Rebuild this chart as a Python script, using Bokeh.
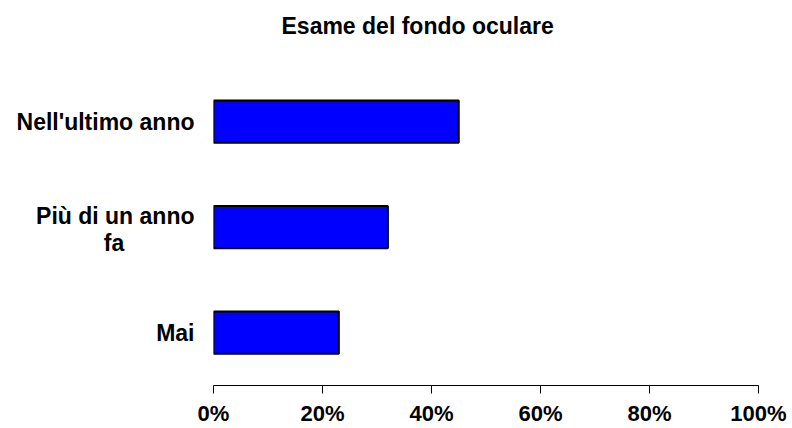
from bokeh.plotting import figure
from bokeh.models import Range1d, FixedTicker, ColumnDataSource
from bokeh.embed import file_html
from bokeh.resources import INLINE

title = "Esame del fondo oculare"
categories = ["Nell'ultimo anno", "Più di un anno fa", "Mai"]
# how each category label is broken into lines in the chart
category_lines = [["Nell'ultimo anno"], ["Più di un anno", "fa"], ["Mai"]]
values = [45, 32, 23]
tick_values = [0, 20, 40, 60, 80, 100]
tick_labels = ["0%", "20%", "40%", "60%", "80%", "100%"]

FONT = "Liberation Sans"
SLOT = 100                      # y units per category
TOP_PAD = 22                    # empty y units above the first bar slot
n = len(categories)
ypos = [int((n - 0.5 - i) * SLOT) for i in range(n)]

src = ColumnDataSource(data=dict(cat=categories, y=ypos, val=values))

p = figure(width=792, height=428,
           y_range=Range1d(0, n * SLOT + TOP_PAD),
           x_range=Range1d(0, 100),
           output_backend="svg", toolbar_location=None,
           min_border_left=213, min_border_right=34,
           min_border_top=45, min_border_bottom=43,
           title=title)

p.hbar(y="y", right="val", left=0, height=0.4 * SLOT, source=src,
       fill_color="#0000FF", line_color="black", line_width=2)

# category tick labels, one tick per text line
line_offsets = {1: [0], 2: [11, -15]}
NBSP = "\u00a0"
y_ticks, y_over = [], {}
for yc, lines in zip(ypos, category_lines):
    widest = max(len(l) for l in lines)
    for off, line in zip(line_offsets[len(lines)], lines):
        t = yc + off
        y_ticks.append(t)
        # centre short lines under the longer one
        pad = 0 if len(line) == widest else 11
        y_over[t] = line + NBSP * pad

p.title.text_font = FONT
p.title.text_font_size = "23px"
p.title.text_font_style = "bold"
p.title.text_color = "black"
p.title.align = "left"
p.title.offset = 68
p.title.standoff = 14

p.outline_line_color = None
p.xgrid.visible = False
p.ygrid.visible = False
p.background_fill_color = "white"
p.border_fill_color = "white"

xa = p.xaxis[0]
xa.ticker = FixedTicker(ticks=tick_values)
xa.major_label_overrides = {v: l for v, l in zip(tick_values, tick_labels)}
xa.major_tick_out = 8
xa.major_tick_in = 0
xa.minor_tick_line_color = None
xa.axis_line_color = "black"
xa.major_tick_line_color = "black"
xa.major_label_standoff = 7
xa.major_label_text_font = FONT
xa.major_label_text_font_size = "22px"
xa.major_label_text_font_style = "bold"
xa.major_label_text_color = "black"

ya = p.yaxis[0]
ya.ticker = FixedTicker(ticks=sorted(y_ticks))
ya.major_label_overrides = y_over
ya.axis_line_color = None
ya.major_tick_line_color = None
ya.minor_tick_line_color = None
ya.major_tick_out = 0
ya.major_tick_in = 0
ya.major_label_standoff = 19
ya.major_label_text_font = FONT
ya.major_label_text_font_size = "23px"
ya.major_label_text_font_style = "bold"
ya.major_label_text_color = "black"

open("out.html", "w").write(file_html(p, INLINE))
